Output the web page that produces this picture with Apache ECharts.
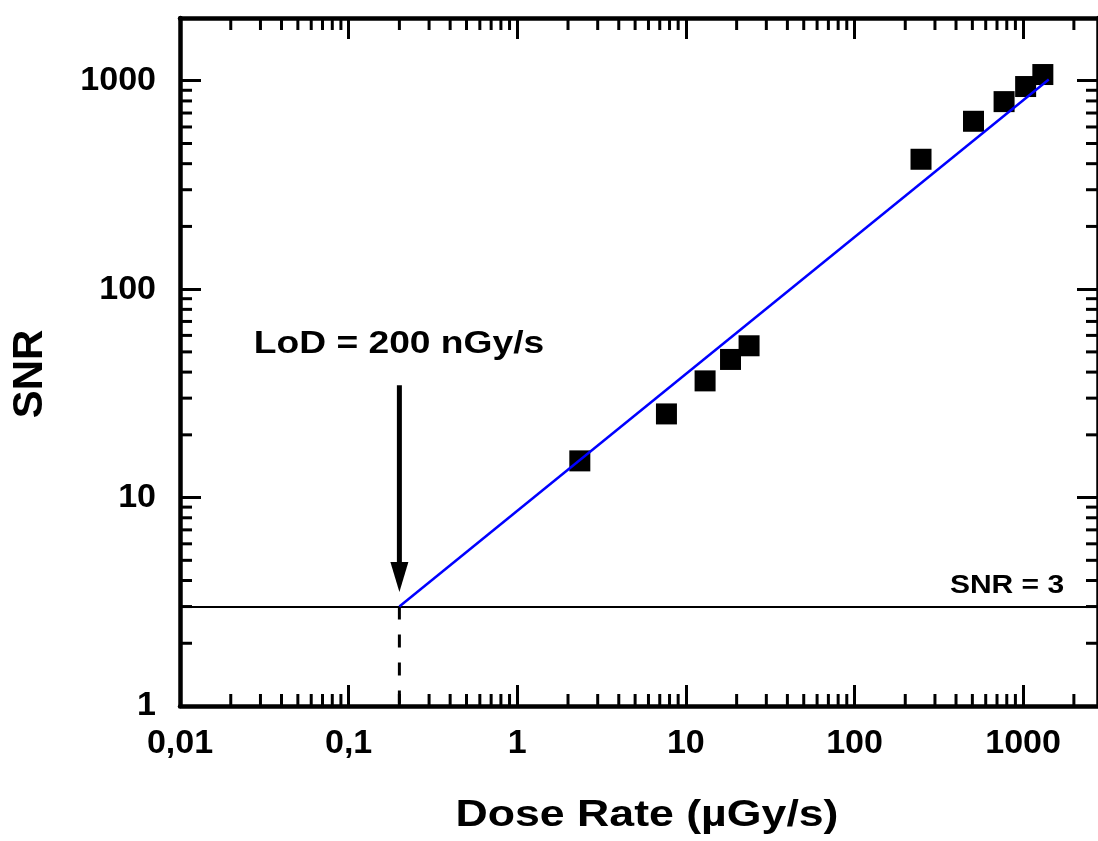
<!DOCTYPE html>
<html>
<head>
<meta charset="utf-8">
<script src="https://cdn.jsdelivr.net/npm/echarts@6/dist/echarts.min.js"></script>
<style>
  html, body { margin: 0; padding: 0; background: #ffffff; }
  #chart { width: 1098px; height: 841px; }
</style>
</head>
<body>
<div id="chart"></div>
<script>
// Measured dose rate (µGy/s) and signal-to-noise ratio
const doseRate = [2.35, 7.67, 13.0, 18.4, 23.7, 248, 508, 771, 1035, 1309];
const snr = [15.0, 25.2, 36.3, 46.0, 53.5, 420, 639, 794, 938, 1071];

// Power-law fit, from the detection limit to the last point
const fitDose = [0.2, 1419];
const fitSnr = [3, 1013];

// Detection threshold and limit of detection (200 nGy/s = 0.2 µGy/s)
const snrThreshold = 3;
const lodDose = 0.2;
const lodArrowFrom = 34.6;
const lodArrowTo = 3.52;

// Axis ranges
const xRange = [0.01, 2780];
const yRange = [1, 2000];

// Tick labels, one per decade
const xDecades = [0.01, 0.1, 1, 10, 100, 1000];
const xTickLabels = ['0,01', '0,1', '1', '10', '100', '1000'];
const yDecades = [1, 10, 100, 1000];
const yTickLabels = ['1', '10', '100', '1000'];
const minorSteps = [2, 3, 4, 5, 6, 7, 8, 9];

const FONT = '"Liberation Sans", Arial, Helvetica, sans-serif';
const MAJOR_LEN = 21;
const MINOR_LEN = 12;
const TICK_W = 3;

function decadeLabel(decades, labels) {
  return function (v) {
    for (let i = 0; i < decades.length; i++) {
      if (Math.abs(Math.log10(v) - Math.log10(decades[i])) < 1e-6) return labels[i];
    }
    return '';
  };
}

function frameAxis(extra) {
  return Object.assign({
    type: 'log',
    logBase: 10,
    axisLine: { show: true, onZero: false, lineStyle: { color: '#000', width: 4.5 } },
    axisTick: { show: true, inside: true, length: MAJOR_LEN, lineStyle: { color: '#000', width: TICK_W } },
    minorTick: { show: false },
    splitLine: { show: false },
    minorSplitLine: { show: false }
  }, extra);
}

const labelStyle = { color: '#000', fontSize: 34, fontWeight: 'bold', fontFamily: FONT };

// Minor tick positions (2..9 within each decade)
const xMinor = [];
xDecades.forEach(d => minorSteps.forEach(m => {
  const v = d * m;
  if (v < xRange[1]) xMinor.push([v, yRange[0]]);
}));
const yMinor = [];
yDecades.forEach(d => minorSteps.forEach(m => {
  const v = d * m;
  if (v < yRange[1]) yMinor.push([xRange[0], v]);
}));

const tickStyle = { stroke: '#000', lineWidth: TICK_W };

const chart = echarts.init(document.getElementById('chart'), null, { renderer: 'canvas' });

chart.setOption({
  animation: false,
  backgroundColor: '#ffffff',
  grid: { left: 180, top: 18, width: 923, height: 688, containLabel: false },
  xAxis: [
    frameAxis({
      position: 'bottom', min: xRange[0], max: xRange[1],
      axisLabel: Object.assign({ margin: 21, showMaxLabel: false, formatter: decadeLabel(xDecades, xTickLabels) }, labelStyle)
    }),
    frameAxis({ position: 'top', min: xRange[0], max: xRange[1], axisLabel: { show: false } })
  ],
  yAxis: [
    frameAxis({
      position: 'left', min: yRange[0], max: yRange[1],
      axisLabel: Object.assign({ margin: 24, showMaxLabel: false, formatter: decadeLabel(yDecades, yTickLabels) }, labelStyle)
    }),
    frameAxis({ position: 'right', min: yRange[0], max: yRange[1], axisLabel: { show: false } })
  ],
  series: [
    {
      // minor ticks on the bottom and top edges
      type: 'custom',
      silent: true,
      clip: false,
      z: 5,
      data: xMinor,
      encode: { x: 0, y: 1 },
      renderItem: function (params, api) {
        const cs = params.coordSys;
        const px = api.coord([api.value(0), api.value(1)])[0];
        const top = cs.y, bottom = cs.y + cs.height;
        return {
          type: 'group',
          children: [
            { type: 'line', shape: { x1: px, y1: bottom, x2: px, y2: bottom - MINOR_LEN }, style: tickStyle },
            { type: 'line', shape: { x1: px, y1: top, x2: px, y2: top + MINOR_LEN }, style: tickStyle }
          ]
        };
      }
    },
    {
      // minor ticks on the left and right edges
      type: 'custom',
      silent: true,
      clip: false,
      z: 5,
      data: yMinor,
      encode: { x: 0, y: 1 },
      renderItem: function (params, api) {
        const cs = params.coordSys;
        const py = api.coord([api.value(0), api.value(1)])[1];
        const left = cs.x, right = cs.x + cs.width;
        return {
          type: 'group',
          children: [
            { type: 'line', shape: { x1: left, y1: py, x2: left + MINOR_LEN, y2: py }, style: tickStyle },
            { type: 'line', shape: { x1: right, y1: py, x2: right - MINOR_LEN, y2: py }, style: tickStyle }
          ]
        };
      }
    },
    {
      // SNR = 3 threshold line across the plot
      type: 'line',
      data: [],
      silent: true,
      markLine: {
        silent: true,
        symbol: ['none', 'none'],
        label: { show: false },
        lineStyle: { color: '#000', width: 2, type: 'solid', opacity: 1 },
        data: [{ yAxis: snrThreshold }]
      }
    },
    {
      // dashed drop from the detection limit to the axis
      type: 'line',
      data: [[lodDose, snrThreshold], [lodDose, yRange[0]]],
      symbol: 'none',
      silent: true,
      lineStyle: { color: '#000', width: 3, type: [13, 15], opacity: 1 },
      z: 3
    },
    {
      // measured points
      type: 'scatter',
      data: doseRate.map((d, i) => [d, snr[i]]),
      symbol: 'rect',
      symbolSize: 21,
      itemStyle: { color: '#000', opacity: 1, borderWidth: 0 },
      z: 4
    },
    {
      // power-law fit
      type: 'line',
      data: fitDose.map((d, i) => [d, fitSnr[i]]),
      symbol: 'none',
      lineStyle: { color: '#0000ff', width: 2.5, opacity: 1 },
      z: 6
    },
    {
      // arrow pointing at the limit of detection
      type: 'custom',
      silent: true,
      clip: false,
      z: 6,
      data: [[lodDose, lodArrowFrom, lodArrowTo]],
      encode: { x: 0, y: [1, 2] },
      renderItem: function (params, api) {
        const start = api.coord([api.value(0), api.value(1)]);
        const tip = api.coord([api.value(0), api.value(2)]);
        const headLen = 30, headHalf = 9;
        return {
          type: 'group',
          children: [
            { type: 'line', shape: { x1: start[0], y1: start[1], x2: tip[0], y2: tip[1] - headLen + 2 },
              style: { stroke: '#000', lineWidth: 5 } },
            { type: 'polygon', shape: { points: [
                [tip[0] - headHalf, tip[1] - headLen],
                [tip[0] + headHalf, tip[1] - headLen],
                [tip[0], tip[1]]
              ] }, style: { fill: '#000' } }
          ]
        };
      }
    }
  ],
  graphic: [
    {
      type: 'text', x: 399, y: 344, scaleX: 1.2, z: 10,
      style: { text: 'LoD = 200 nGy/s', font: 'bold 31px ' + FONT, fill: '#000',
               align: 'center', verticalAlign: 'middle', textAlign: 'center', textVerticalAlign: 'middle' }
    },
    {
      type: 'text', x: 1007, y: 586, scaleX: 1.2, z: 10,
      style: { text: 'SNR = 3', font: 'bold 25px ' + FONT, fill: '#000',
               align: 'center', verticalAlign: 'middle', textAlign: 'center', textVerticalAlign: 'middle' }
    },
    {
      type: 'text', x: 647, y: 816, scaleX: 1.24, z: 10,
      style: { text: 'Dose Rate (µGy/s)', font: 'bold 36px ' + FONT, fill: '#000',
               align: 'center', verticalAlign: 'middle', textAlign: 'center', textVerticalAlign: 'middle' }
    },
    {
      type: 'text', x: 30, y: 374, rotation: Math.PI / 2, z: 10,
      style: { text: 'SNR', font: 'bold 42px ' + FONT, fill: '#000',
               align: 'center', verticalAlign: 'middle', textAlign: 'center', textVerticalAlign: 'middle' }
    }
  ]
});
</script>
</body>
</html>
